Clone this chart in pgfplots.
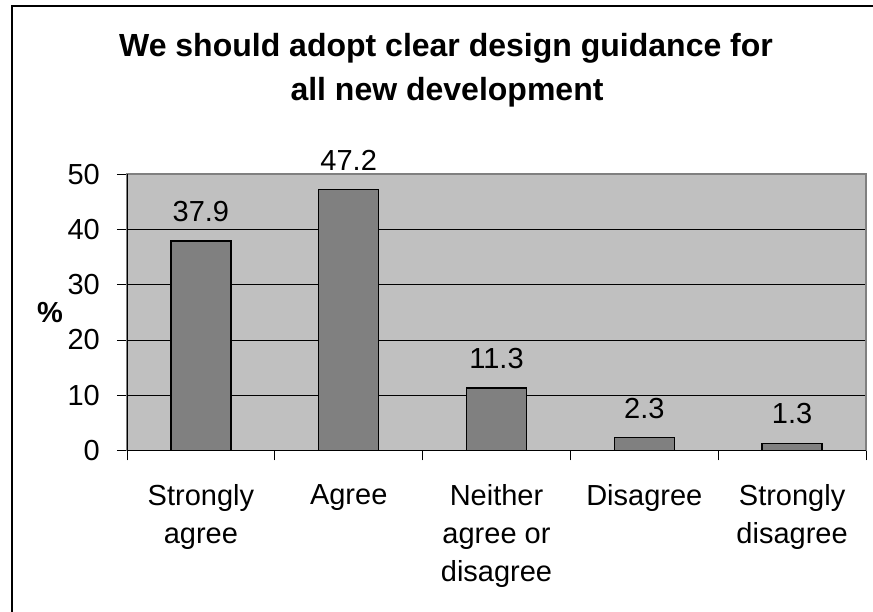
\documentclass[border=0pt]{standalone}
\usepackage{fontspec}
\setmainfont{Liberation Sans}
\usepackage{pgfplots}
\pgfplotsset{compat=1.18}
\definecolor{plotgrey}{HTML}{C0C0C0}
\definecolor{bargrey}{HTML}{808080}
\begin{document}
\begin{tikzpicture}[x=1pt,y=1pt]
\useasboundingbox (0,0) rectangle (873,612);
\begin{scope}
\clip (0,0) rectangle (873,612);
\draw[line width=2pt] (12,-20) -- (12,606) -- (900,606);
\end{scope}
\begin{axis}[
  at={(127pt,161.5pt)}, anchor=south west,
  scale only axis, width=739pt, height=276.2pt,
  ybar, bar width=60pt,
  ymin=0, ymax=50, xmin=-0.5, xmax=4.5,
  /pgf/number format/assume math mode=true,
  ytick={0,10,...,50},
  xtick={-0.5,0.5,...,4.5},
  xticklabels={},
  extra x ticks={0,1,2,3,4},
  extra x tick labels={{Strongly\\agree},{Agree},{Neither\\agree or\\disagree},{Disagree},{Strongly\\disagree}},
  extra x tick style={major tick length=0pt, grid=none},
  xtick pos=bottom, ytick pos=left,
  tick align=outside,
  major tick length=10pt,
  tick style={black, line width=1pt},
  ymajorgrids,
  major grid style={black, line width=1pt},
  axis background/.style={fill=plotgrey},
  axis line style={draw=bargrey, line width=1.8pt},
  tick label style={font=\fontsize{29}{37.7}\selectfont},
  yticklabel style={anchor=east, inner sep=0pt, xshift=-17pt},
  xticklabel style={align=center, anchor=north, inner sep=0pt, yshift=-34pt},
  ylabel={\%},
  ylabel style={rotate=-90, at={(axis description cs:-0.1042,0.5)}, anchor=center, inner sep=0pt, font=\fontsize{29}{35}\selectfont\bfseries},
]
\addplot[fill=bargrey, draw=black, line width=1.3pt,
  nodes near coords,
  every node near coord/.append style={font=\fontsize{29}{35}\selectfont, anchor=south, inner sep=0pt, yshift=18.6pt}]
  coordinates {(0,37.9) (1,47.2) (2,11.3) (3,2.3) (4,1.3)};
\draw[black, line width=1.2pt] (rel axis cs:0,1) -- (rel axis cs:0,0) -- (rel axis cs:1,0);
\end{axis}
\node[font=\fontsize{32}{40}\selectfont\bfseries, anchor=base, inner sep=0pt] at (446,555) {We should adopt clear design guidance for};
\node[font=\fontsize{32}{40}\selectfont\bfseries, anchor=base, inner sep=0pt] at (447,511.3) {all new development};
\end{tikzpicture}
\end{document}
